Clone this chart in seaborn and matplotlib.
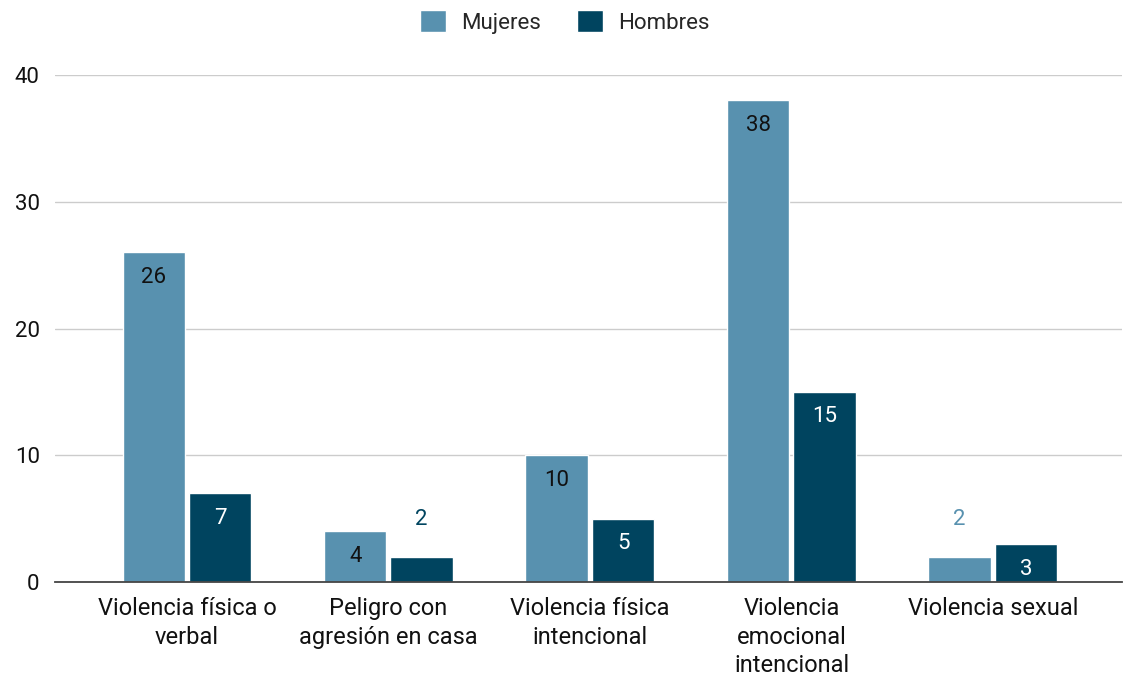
import matplotlib.pyplot as plt
import pandas as pd
import seaborn as sns

categories = [
    "Violencia física o\nverbal",
    "Peligro con\nagresión en casa",
    "Violencia física\nintencional",
    "Violencia\nemocional\nintencional",
    "Violencia sexual",
]
mujeres = [26, 4, 10, 38, 2]
hombres = [7, 2, 5, 15, 3]
series = ["Mujeres", "Hombres"]
colors = {"Mujeres": "#5891AF", "Hombres": "#00445F"}
inside_text = {"Mujeres": "#111111", "Hombres": "#FFFFFF"}


def build_frame() -> pd.DataFrame:
    rows = []
    for cat, m, h in zip(categories, mujeres, hombres):
        rows.append({"cat": cat, "serie": "Mujeres", "valor": m})
        rows.append({"cat": cat, "serie": "Hombres", "valor": h})
    return pd.DataFrame(rows)


def plot(df: pd.DataFrame) -> None:
    sns.set_style("white")
    plt.rcParams["font.family"] = ["Roboto", "DejaVu Sans"]

    fig = plt.figure(figsize=(11.23, 6.76), dpi=100)
    ax = fig.add_axes([0.049, 0.139, 0.95, 0.75])

    sns.barplot(
        data=df, x="cat", y="valor", hue="serie", hue_order=series,
        palette=colors, width=0.66, gap=0.06, ax=ax, legend=True,
        saturation=1, zorder=3,
    )

    # value labels: inside near the top, above the bar when it is too short
    for name, container in zip(series, ax.containers):
        for bar in container:
            v = bar.get_height()
            x = bar.get_x() + bar.get_width() / 2
            if v >= 3:
                ax.annotate(f"{v:g}", (x, v), xytext=(0, -18), textcoords="offset points",
                            ha="center", va="center", fontsize=16, color=inside_text[name])
            else:
                ax.annotate(f"{v:g}", (x, v), xytext=(0, 27), textcoords="offset points",
                            ha="center", va="center", fontsize=16, color=colors[name])

    ax.set_xlim(-0.655, 4.64)
    ax.set_ylim(0, 40)
    ax.set_yticks([0, 10, 20, 30, 40])
    ax.yaxis.grid(True, color="#CCCCCC", linewidth=1, zorder=0)
    ax.set_xlabel("")
    ax.set_ylabel("")
    for side in ["top", "right", "left"]:
        ax.spines[side].set_visible(False)
    ax.spines["bottom"].set_color("#444444")
    ax.spines["bottom"].set_linewidth(1.3)
    ax.spines["bottom"].set_zorder(4)
    ax.tick_params(axis="y", length=0, pad=11, labelsize=16, labelcolor="#111111")
    ax.tick_params(axis="x", length=0, pad=11, labelsize=17, labelcolor="#111111")
    for lab in ax.get_xticklabels():
        lab.set_linespacing(1.31)
        lab.set_va("top")

    ax.legend(
        loc="center", bbox_to_anchor=(0.478, 1.105), ncol=2, frameon=False,
        fontsize=16, handlelength=1.15, handleheight=1.15, columnspacing=1.6,
        handletextpad=0.7, title=None,
    )

    fig.savefig("out.png", dpi=100)


def main() -> None:
    df = build_frame()
    plot(df)


if __name__ == "__main__":
    main()
